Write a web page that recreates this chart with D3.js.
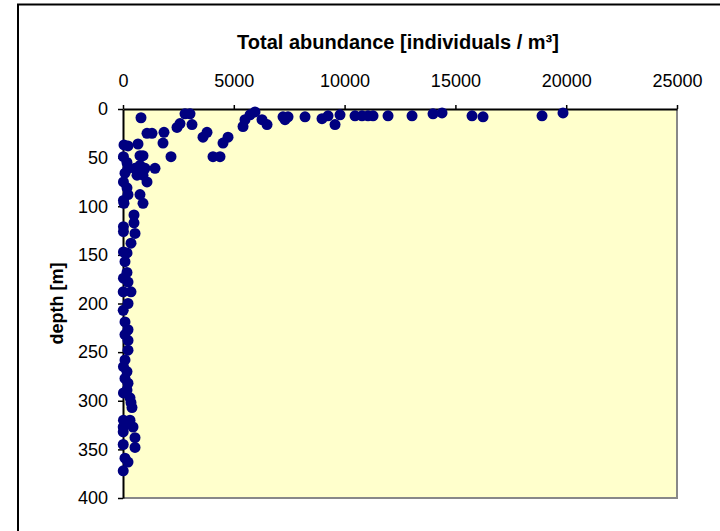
<!DOCTYPE html>
<html>
<head>
<meta charset="utf-8">
<script src="https://cdn.jsdelivr.net/npm/d3@7"></script>
<style>
  body { margin: 0; background: #fff; }
  svg text { font-family: "Liberation Sans", Arial, sans-serif; fill: #000; }
</style>
</head>
<body>
<div id="chart"></div>
<script>
const abundance = [
  812, 1083, 1309, 1850, 1805, 2166, 2437, 2572, 2798, 3024, 3114, 3610, 3791, 4062, 4378,
  4513, 4739, 5416, 5506, 5732, 5957, 6273, 6499, 7221, 7311, 7447, 8214, 8981, 9252, 9568,
  9793, 10470, 10786, 11057, 11283, 11960, 13043, 13990, 14397, 15750, 16247, 18909, 19857,
  45, 226, 677, 767, 903, 20, 180, 226, 542, 767, 993, 632, 903, 1444, 1083, 90, 20, 180,
  226, 20, 45, 767, 903, 496, 496, 542, 361, 20, 20, 20, 180, 90, 180, 20, 226, 10, 361,
  226, 10, 90, 226, 90, 226, 226, 90, 20, 180, 90, 226, 180, 20, 316, 361, 406, 20, 316,
  180, 10, 451, 10, 542, 542, 10, 90, 226, 10
];
const depth = [
  9, 25, 25, 24, 35, 49, 19, 15, 5, 5, 16, 29, 24, 49, 49,
  35, 29, 18, 11, 6, 3, 11, 16, 8, 11, 8, 8, 10, 7, 16,
  6, 7, 7, 7, 7, 7, 7, 5, 4, 7, 8, 7, 4,
  37, 38, 36, 48, 48, 49, 55, 61, 61, 58, 61, 68, 68, 61, 75, 66, 75, 81,
  88, 94, 97, 88, 97, 109, 117, 128, 138, 121, 126, 147, 148, 157, 168, 174, 178, 188, 188,
  200, 207, 219, 227, 232, 238, 248, 258, 265, 270, 277, 282, 289, 292, 297, 302, 307, 320, 320,
  323, 327, 327, 332, 338, 348, 345, 359, 363, 372
];
const xTicks = [0, 5000, 10000, 15000, 20000, 25000];
const yTicks = [0, 50, 100, 150, 200, 250, 300, 350, 400];

class DepthScatter {

  constructor(_config, _data) {
    this.config = {
      parentElement: _config.parentElement,
      containerWidth: _config.containerWidth || 720,
      containerHeight: _config.containerHeight || 531,
      margin: { top: 109, bottom: 33, right: 43, left: 123 }
    }
    this.data = _data;
    this.initVis();
  }

  initVis() {
    const vis = this;

    vis.width = vis.config.containerWidth - vis.config.margin.left - vis.config.margin.right;
    vis.height = vis.config.containerHeight - vis.config.margin.top - vis.config.margin.bottom;

    vis.root = d3.select(vis.config.parentElement)
        .append('svg')
        .attr('width', vis.config.containerWidth)
        .attr('height', vis.config.containerHeight);

    // outer chart frame (runs off the right and bottom edges)
    vis.root.append('rect')
        .attr('x', 18)
        .attr('y', 4.5)
        .attr('width', 800)
        .attr('height', 700)
        .attr('fill', 'none')
        .attr('stroke', '#000')
        .attr('stroke-width', 2);

    vis.svg = vis.root.append('g')
        .attr('transform', `translate(${vis.config.margin.left}, ${vis.config.margin.top})`);

    vis.xScale = d3.scaleLinear()
        .domain([0, 25000])
        .range([0, vis.width]);

    vis.yScale = d3.scaleLinear()
        .domain([0, 400])
        .range([0, vis.height]);

    // plot area
    vis.svg.append('rect')
        .attr('width', vis.width)
        .attr('height', vis.height)
        .attr('fill', '#FFFFCC');

    // grey edges on the right and bottom
    vis.svg.append('path')
        .attr('d', `M${vis.width},0V${vis.height}H0`)
        .attr('fill', 'none')
        .attr('stroke', '#888')
        .attr('stroke-width', 2);

    vis.xAxis = d3.axisTop(vis.xScale).tickValues(xTicks).tickFormat(d3.format('d'))
        .tickSize(4).tickSizeOuter(0).tickPadding(18);
    vis.yAxis = d3.axisLeft(vis.yScale).tickValues(yTicks).tickFormat(d3.format('d'))
        .tickSize(5).tickSizeOuter(0).tickPadding(10);

    vis.xAxisGroup = vis.svg.append('g').attr('class', 'x-axis').call(vis.xAxis);
    vis.yAxisGroup = vis.svg.append('g').attr('class', 'y-axis').call(vis.yAxis);

    vis.svg.selectAll('.x-axis, .y-axis')
        .attr('font-family', null)
        .attr('font-size', null);
    vis.svg.selectAll('.x-axis path, .y-axis path')
        .attr('stroke', '#000')
        .attr('stroke-width', 2);
    vis.svg.selectAll('.tick line')
        .attr('stroke', '#000')
        .attr('stroke-width', 1.5);
    vis.svg.selectAll('.tick text')
        .style('font-size', '18px');

    // titles
    vis.root.append('text')
        .attr('x', 398)
        .attr('y', 49)
        .attr('text-anchor', 'middle')
        .style('font-size', '20px')
        .style('font-weight', 'bold')
        .text('Total abundance [individuals / m³]');

    vis.root.append('text')
        .attr('transform', `translate(63, ${vis.config.margin.top + vis.height / 2}) rotate(-90)`)
        .attr('text-anchor', 'middle')
        .style('font-size', '18px')
        .style('font-weight', 'bold')
        .text('depth [m]');

    // dots
    vis.svg.selectAll('.dot')
        .data(vis.data)
        .join('circle')
        .attr('class', 'dot')
        .attr('cx', d => vis.xScale(d.abundance))
        .attr('cy', d => vis.yScale(d.depth))
        .attr('r', 5.5)
        .attr('fill', '#000080');
  }
}

const points = abundance.map((a, i) => ({ abundance: a, depth: depth[i] }));
new DepthScatter({ parentElement: '#chart' }, points);
</script>
</body>
</html>
